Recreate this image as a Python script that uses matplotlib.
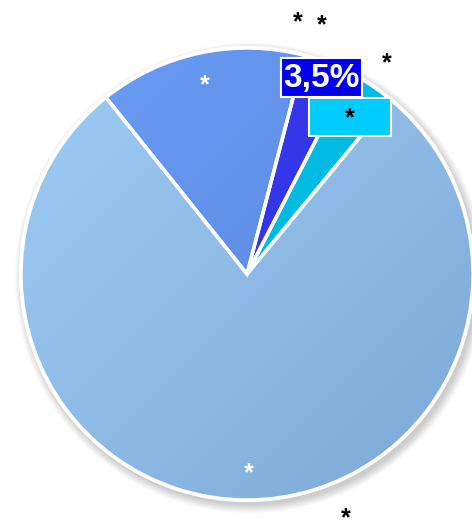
import numpy as np
import matplotlib
matplotlib.use('Agg')
import matplotlib.pyplot as plt
import matplotlib.patches as mpatches
from matplotlib.colors import to_rgb

# slices, counter-clockwise starting from the cyan one
shares = [3.4, 3.5, 14.8, 78.3]
light_colors = ['#00c4ea', '#3a3af0', '#6a9ef8', '#9ecdf6']
dark_colors = ['#00b0d8', '#2f2fe0', '#5880d4', '#7ca8d6']
value_labels = ['*', '3,5%', '*', '*']
name_labels = ['*', '*', '*', '*']

W, H = 472, 525
cx, cy, R = 247, 525 - 274, 226


def gradient(c1, c2, n=200):
    a = np.array(to_rgb(c1))
    b = np.array(to_rgb(c2))
    xx, yy = np.meshgrid(np.linspace(0, 1, n), np.linspace(0, 1, n))
    t = (xx + yy) / 2.0
    return a[None, None, :] * (1 - t[..., None]) + b[None, None, :] * t[..., None]


def label(ax, x, y, s, color='black', size=18, z=5):
    ax.text(x, H - y, s, color=color, fontsize=size, fontweight='bold',
            ha='center', va='center', family='Liberation Sans', zorder=z)


def main():
    fig = plt.figure(figsize=(W / 100, H / 100), dpi=100)
    ax = fig.add_axes([0, 0, 1, 1])

    #
    # soft shadow behind the pie
    #
    for k in range(10):
        ax.add_patch(mpatches.Circle((cx + 3, cy - 4), R + 1 + k * 0.9,
                                     facecolor='#000000', edgecolor='none',
                                     alpha=0.02, zorder=0))
    ax.add_patch(mpatches.Circle((cx, cy), R + 2, facecolor='white',
                                 edgecolor='none', zorder=0.5))

    wedges, _ = ax.pie(shares, colors=light_colors, startangle=50.5,
                       counterclock=True, center=(cx, cy), radius=R,
                       wedgeprops=dict(edgecolor='white', linewidth=2.5))
    ax.set_xlim(0, W)
    ax.set_ylim(0, H)
    ax.set_aspect('equal')
    ax.axis('off')

    #
    # fill every wedge with a diagonal gradient
    #
    for w, c1, c2 in zip(wedges, light_colors, dark_colors):
        im = ax.imshow(gradient(c1, c2), origin='upper',
                       extent=(cx - R, cx + R, cy - R, cy + R),
                       zorder=1.5, interpolation='bilinear')
        im.set_clip_path(w)
        w.set_facecolor('none')
        w.set_zorder(2)

    # value labels
    label(ax, 205, 85, value_labels[2], color='white')
    label(ax, 249, 473, value_labels[3], color='white')

    ax.add_patch(mpatches.Rectangle((309, H - 136), 82, 38, facecolor='#00ccff',
                                    edgecolor='white', linewidth=1.5, zorder=6))
    label(ax, 350, 118, value_labels[0], z=7)

    ax.add_patch(mpatches.Rectangle((281, H - 97), 81, 39, facecolor='#0000ee',
                                    edgecolor='white', linewidth=1.5, zorder=8))
    label(ax, 321.5, 78, value_labels[1], color='white', size=24, z=9)

    # category labels outside
    label(ax, 298, 22, name_labels[1])
    label(ax, 322, 25, name_labels[1])
    label(ax, 387, 63, name_labels[0])
    label(ax, 346, 518, name_labels[3])

    fig.savefig('out.png', dpi=100)


if __name__ == '__main__':
    main()
